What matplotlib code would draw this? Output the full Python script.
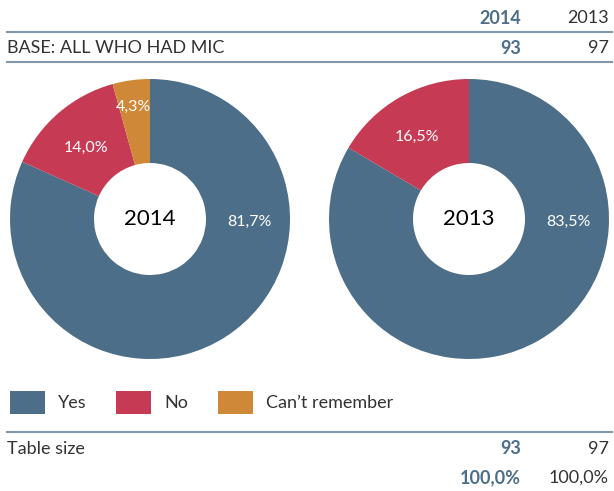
import matplotlib.pyplot as plt
from matplotlib.patches import Rectangle

# datos
categorias = ["Yes", "No", "Can\u2019t remember"]
valores_2014 = [81.7, 14.0, 4.3]
valores_2013 = [83.5, 16.5, 0.0]
anios = ["2014", "2013"]
base = [93, 97]
tamano_tabla = [93, 97]
totales = ["100,0%", "100,0%"]

colores = ["#4c6e88", "#c63a54", "#cf8837"]
azul_texto = "#4c6e88"
gris = "#333333"
linea = "#7f98ab"

plt.rcParams["font.family"] = ["Lato", "DejaVu Sans"]

W, H = 614, 491
fig = plt.figure(figsize=(W / 100, H / 100), dpi=100)
ax = fig.add_axes([0, 0, 1, 1])


def y(v):
    return H - v


def etiqueta(v):
    return f"{v:.1f}%".replace(".", ",")


# donuts
centros = [(150, y(219)), (469, y(219))]
radio = 140
hueco = 56
# posiciones de las etiquetas (dx, dy en px desde el centro)
pos_etiquetas = [
    [(99, -3), (-64, 71), (-17, 112)],
    [(99, -3), (-52, 82), None],
]
for i, vals in enumerate([valores_2014, valores_2013]):
    ax.pie(vals, colors=colores, startangle=90, counterclock=False,
           center=centros[i], radius=radio,
           wedgeprops=dict(width=radio - hueco, linewidth=0))
    cx, cy = centros[i]
    for v, p in zip(vals, pos_etiquetas[i]):
        if p is None or v == 0:
            continue
        ax.text(cx + p[0], cy + p[1], etiqueta(v), ha="center", va="center",
                fontsize=11.5, color="white")
    ax.text(cx, cy, anios[i], ha="center", va="center", fontsize=16, color="black")

# pie() cambia los limites, se fijan despues
ax.set_xlim(0, W)
ax.set_ylim(0, H)
ax.set_aspect("equal")
ax.axis("off")

# cabecera
fs = 13
ax.text(521, y(18), anios[0], ha="right", va="center", fontsize=fs, fontweight="bold", color=azul_texto)
ax.text(609, y(18), anios[1], ha="right", va="center", fontsize=fs, color=gris)
ax.plot([7, 612], [y(32), y(32)], color=linea, lw=1.5)
ax.text(7, y(48), "BASE: ALL WHO HAD MIC", ha="left", va="center", fontsize=fs, color=gris)
ax.text(521, y(48), str(base[0]), ha="right", va="center", fontsize=fs, fontweight="bold", color=azul_texto)
ax.text(609, y(48), str(base[1]), ha="right", va="center", fontsize=fs, color=gris)
ax.plot([7, 612], [y(62), y(62)], color=linea, lw=1.5)

# leyenda
leg_x = [10, 116, 218]
for xi, c, nombre in zip(leg_x, colores, categorias):
    ax.add_patch(Rectangle((xi, y(414)), 35, 23, color=c, lw=0))
    ax.text(xi + 48, y(403), nombre, ha="left", va="center", fontsize=fs, color=gris)

# pie de tabla
ax.plot([7, 612], [y(432), y(432)], color=linea, lw=1.5)
ax.text(7, y(449), "Table size", ha="left", va="center", fontsize=fs, color=gris)
ax.text(521, y(449), str(tamano_tabla[0]), ha="right", va="center", fontsize=fs, fontweight="bold", color=azul_texto)
ax.text(609, y(449), str(tamano_tabla[1]), ha="right", va="center", fontsize=fs, color=gris)
ax.text(521, y(478), totales[0], ha="right", va="center", fontsize=fs, fontweight="bold", color=azul_texto)
ax.text(609, y(478), totales[1], ha="right", va="center", fontsize=fs, color=gris)

fig.savefig("out.png", dpi=100)
